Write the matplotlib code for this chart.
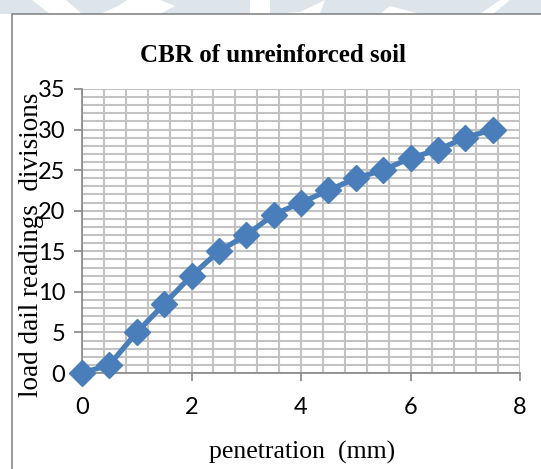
import numpy as np
import matplotlib
matplotlib.use("Agg")
import matplotlib.pyplot as plt
from matplotlib.patches import Polygon, Rectangle
from matplotlib.ticker import MultipleLocator

# penetration (mm) and dial readings
penetration = [0, 0.5, 1, 1.5, 2, 2.5, 3, 3.5, 4, 4.5, 5, 5.5, 6, 6.5, 7, 7.5]
dial_reading = [0, 1, 5, 8.5, 12, 15, 17, 19.5, 21, 22.5, 24, 25, 26.5, 27.5, 29, 30]

title = "CBR of unreinforced soil"
xlabel = "penetration  (mm)"
ylabel = "load dail readings  divisions"

W, H = 541, 469
fig = plt.figure(figsize=(W / 100, H / 100), dpi=100)
fig.patch.set_facecolor("white")


def px(x, y):
    # pixel coords (from top-left) -> figure fraction
    return x / W, 1 - y / H


# faint page watermark across the top edge
shade = "#dde5ea"
shapes = [
    [(0, 0), (32, 0), (50, 14), (0, 14)],
    [(66, 0), (127, 0), (118, 6), (100, 14), (82, 14)],
    [(160, 0), (250, 0), (250, 14), (160, 14), (175, 6)],
    [(270, 0), (325, 0), (300, 12), (270, 14)],
    [(325, 0), (500, 0), (480, 14), (420, 14), (390, 6), (380, 14), (320, 14)],
    [(510, 0), (541, 0), (541, 14), (493, 14)],
]
for pts in shapes:
    fig.patches.append(Polygon([px(*p) for p in pts], closed=True,
                               transform=fig.transFigure, facecolor=shade,
                               edgecolor="none", zorder=0))

# chart frame
x0, y0 = px(12, 14)
fig.patches.append(Rectangle((x0, -0.1), 1.2, y0 + 0.1, transform=fig.transFigure,
                             facecolor="white", edgecolor="#868686", lw=1.2, zorder=1))

ax = fig.add_axes([82 / W, 1 - 373 / H, (520 - 82) / W, (373 - 89) / H])
ax.set_zorder(2)
ax.patch.set_alpha(0)

ax.plot(penetration, dial_reading, color="#4a7ebb", lw=3.8, marker="D",
        markersize=13, markeredgecolor="#4a7ebb", clip_on=False, zorder=3)

ax.set_xlim(0, 8)
ax.set_ylim(0, 35)
ax.xaxis.set_major_locator(MultipleLocator(2))
ax.xaxis.set_minor_locator(MultipleLocator(0.4))
ax.yaxis.set_major_locator(MultipleLocator(5))
ax.yaxis.set_minor_locator(MultipleLocator(1))
ax.grid(which="both", color="#c3c3c3", lw=1.5)
ax.set_axisbelow(True)

for side in ["top", "right"]:
    ax.spines[side].set_visible(False)
for side in ["left", "bottom"]:
    ax.spines[side].set_color("#868686")
    ax.spines[side].set_linewidth(1.2)

ax.tick_params(which="major", direction="out", length=6, width=1.2,
               color="#868686", labelsize=17, pad=6)
ax.tick_params(which="minor", length=0)
ax.tick_params(axis="x", pad=11)
for lab in ax.get_xticklabels() + ax.get_yticklabels():
    lab.set_family("Lato")

fig.text(*px(273, 55), title, ha="center", va="center", fontsize=18,
         fontweight="bold", family="Liberation Serif")
fig.text(*px(302, 452), xlabel, ha="center", va="center", fontsize=18.5,
         family="Liberation Serif")
fig.text(*px(32, 245), ylabel, ha="center", va="center", rotation=90,
         fontsize=19.5, family="Liberation Serif")

fig.savefig("out.png", dpi=100)
